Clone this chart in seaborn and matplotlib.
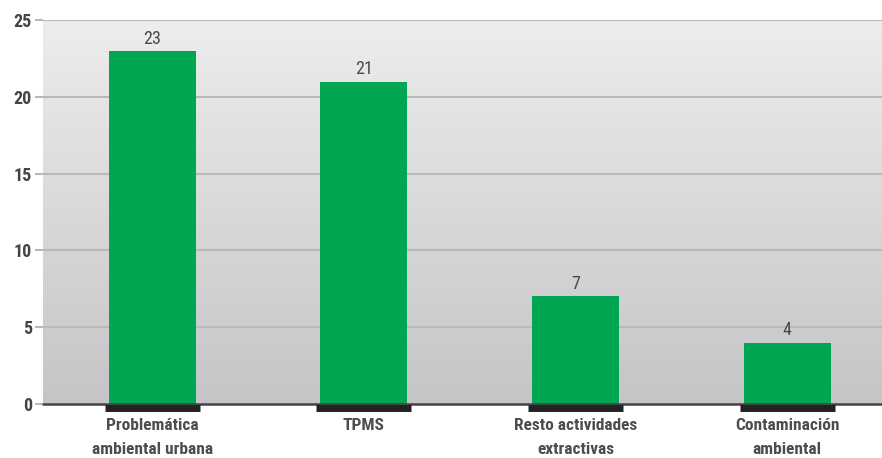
import matplotlib
matplotlib.use("Agg")
import matplotlib.pyplot as plt
import seaborn as sns
import numpy as np
import pandas as pd
from matplotlib import font_manager
from matplotlib.colors import LinearSegmentedColormap

categories = ["Problemática\nambiental urbana", "TPMS", "Resto actividades\nextractivas", "Contaminación\nambiental"]
values = [23, 21, 7, 4]
yticks = [0, 5, 10, 15, 20, 25]

df = pd.DataFrame({"cat": categories, "val": values})

sns.set_theme(style="white")
names = {f.name for f in font_manager.fontManager.ttflist}
fam = [n for n in ["Roboto Condensed", "Liberation Sans Narrow", "DejaVu Sans Condensed"] if n in names]
plt.rcParams['font.family'] = fam + ['DejaVu Sans']

fig = plt.figure(figsize=(8.82, 4.58), dpi=100)
ax = fig.add_axes([0.049, 0.118, 0.951, 0.838])

grad = np.linspace(0, 1, 256).reshape(-1, 1)
cmap = LinearSegmentedColormap.from_list("g", ["#ededed", "#c5c5c7"])
ax.imshow(grad, aspect="auto", cmap=cmap, extent=[0, 1, 0, 1], transform=ax.transAxes, zorder=0)

sns.barplot(data=df, x="cat", y="val", color="#00a651", saturation=1, width=0.41,
            linewidth=0, ax=ax, zorder=3)

ax.set_ylim(0, 25)
ax.set_xlim(-0.515, 3.448)
ax.set_yticks(yticks)
ax.set_yticklabels([str(t) for t in yticks], fontsize=13, fontweight="bold", color="#444444")
for t in yticks[1:]:
    ax.axhline(t, color="#b9b9bb", lw=1.5, zorder=1)
ax.tick_params(axis="y", length=6, width=1.5, color="#b9b9bb", pad=2, left=True)
ax.axhline(0, color="#444444", lw=1.8, zorder=4, clip_on=False)

for i, v in enumerate(values):
    ax.text(i, v + 0.2, str(v), ha="center", va="bottom", fontsize=13, color="#4a4a4a", zorder=5)

for i in range(len(categories)):
    ax.hlines(-0.27, i - 0.224, i + 0.224, color="#222222", lw=5, clip_on=False, zorder=5)

ax.set_xticks(range(len(categories)))
ax.set_xticklabels(categories, fontsize=12.5, fontweight="bold", color="#4d4d4d", linespacing=1.8)
ax.tick_params(axis="x", length=0, pad=10)
ax.set_xlabel("")
ax.set_ylabel("")
for s in ax.spines.values():
    s.set_visible(False)

fig.savefig("out.png", dpi=100)
